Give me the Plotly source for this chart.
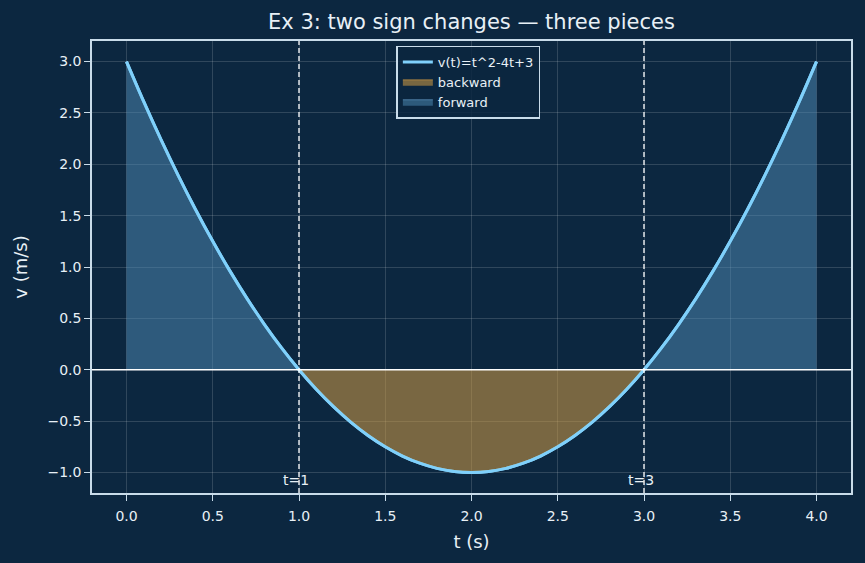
import plotly.graph_objects as go

t_vals = [0.0, 0.1, 0.2, 0.3, 0.4, 0.5, 0.6, 0.7, 0.8, 0.9, 1.0,
          1.1, 1.2, 1.3, 1.4, 1.5, 1.6, 1.7, 1.8, 1.9, 2.0,
          2.1, 2.2, 2.3, 2.4, 2.5, 2.6, 2.7, 2.8, 2.9, 3.0,
          3.1, 3.2, 3.3, 3.4, 3.5, 3.6, 3.7, 3.8, 3.9, 4.0]
v_vals = [3.00, 2.61, 2.24, 1.89, 1.56, 1.25, 0.96, 0.69, 0.44, 0.21, 0.00,
          -0.19, -0.36, -0.51, -0.64, -0.75, -0.84, -0.91, -0.96, -0.99, -1.00,
          -0.99, -0.96, -0.91, -0.84, -0.75, -0.64, -0.51, -0.36, -0.19, 0.00,
          0.21, 0.44, 0.69, 0.96, 1.25, 1.56, 1.89, 2.24, 2.61, 3.00]
sign_changes = [1.0, 3.0]
change_labels = ["t=1", "t=3"]

BG = "#0c2740"
FG = "#e8f0f6"
SPINE = "#c9dcea"
CURVE = "#7fd0fb"
FWD_FILL = "rgba(80,141,184,0.5)"
BWD_FILL = "rgba(212,157,68,0.55)"

def segment(a, b):
    ts, vs = [], []
    for t, v in zip(t_vals, v_vals):
        if a - 1e-9 <= t <= b + 1e-9:
            ts.append(t)
            vs.append(v)
    return ts, vs

fig = go.Figure()

t1, v1 = segment(0.0, sign_changes[0])
t2, v2 = segment(sign_changes[0], sign_changes[1])
t3, v3 = segment(sign_changes[1], 4.0)

fig.add_trace(go.Scatter(x=t_vals, y=v_vals, mode="lines", name="v(t)=t^2-4t+3",
                         line=dict(color=CURVE, width=3, shape="spline"), legendrank=1))
fig.add_trace(go.Scatter(x=t2, y=v2, mode="lines", name="backward", fill="tozeroy",
                         fillcolor=BWD_FILL, line=dict(color="rgba(212,157,68,0.6)", width=1, shape="spline"),
                         legendrank=2))
fig.add_trace(go.Scatter(x=t1, y=v1, mode="lines", name="forward", fill="tozeroy",
                         fillcolor=FWD_FILL, line=dict(color="rgba(110,165,210,0.6)", width=1, shape="spline"),
                         legendrank=3, legendgroup="fwd"))
fig.add_trace(go.Scatter(x=t3, y=v3, mode="lines", name="forward", fill="tozeroy",
                         fillcolor=FWD_FILL, line=dict(color="rgba(110,165,210,0.6)", width=1, shape="spline"),
                         showlegend=False, legendgroup="fwd"))
# redraw curve on top
fig.add_trace(go.Scatter(x=t_vals, y=v_vals, mode="lines", showlegend=False, hoverinfo="skip",
                         line=dict(color=CURVE, width=3, shape="spline")))

# vertical dashed lines and labels
for x, lab in zip(sign_changes, change_labels):
    fig.add_shape(type="line", x0=x, x1=x, y0=0, y1=1, xref="x", yref="paper",
                  line=dict(color="white", width=1.3, dash="5px,3px"))
    fig.add_annotation(x=x, y=-1.07, text=lab, showarrow=False, xref="x", yref="y",
                       font=dict(size=14, color=FG), yanchor="middle", xshift=-3)
# zero line
fig.add_shape(type="line", x0=0, x1=1, y0=0, y1=0, xref="paper", yref="y",
              line=dict(color="white", width=1.3))

axis_common = dict(showgrid=True, gridcolor="rgba(255,255,255,0.15)", gridwidth=1,
                   zeroline=False, showline=True, linecolor=SPINE, linewidth=1.5, mirror=True,
                   ticks="outside", ticklen=6, tickcolor=SPINE,
                   tickfont=dict(size=14, color=FG, family="DejaVu Sans"))

fig.update_layout(
    width=865, height=563,
    paper_bgcolor=BG, plot_bgcolor=BG,
    margin=dict(l=92, r=14, t=41, b=70),
    font=dict(family="DejaVu Sans", color=FG),
    title=dict(text="Ex 3: two sign changes — three pieces", x=0.545, xanchor="center",
               y=0.962, yanchor="middle", font=dict(size=21, color=FG)),
    xaxis=dict(range=[-0.2, 4.2], tickvals=[0, 0.5, 1, 1.5, 2, 2.5, 3, 3.5, 4],
               ticktext=["0.0", "0.5", "1.0", "1.5", "2.0", "2.5", "3.0", "3.5", "4.0"],
               ticklabelstandoff=3,
               title=dict(text="t (s)", font=dict(size=18, color=FG), standoff=13), **axis_common),
    yaxis=dict(range=[-1.2, 3.2], tickvals=[-1, -0.5, 0, 0.5, 1, 1.5, 2, 2.5, 3],
               ticktext=["\u22121.0", "\u22120.5", "0.0", "0.5", "1.0", "1.5", "2.0", "2.5", "3.0"],
               title=dict(text="v (m/s)", font=dict(size=18, color=FG), standoff=15), **axis_common),
    legend=dict(x=0.401, y=0.99, xanchor="left", yanchor="top",
                bgcolor="rgba(12,39,64,0.85)", bordercolor=SPINE, borderwidth=1.5,
                font=dict(size=13, color=FG), tracegroupgap=0, itemwidth=30),
    showlegend=True,
)

fig.write_html("out.html")
